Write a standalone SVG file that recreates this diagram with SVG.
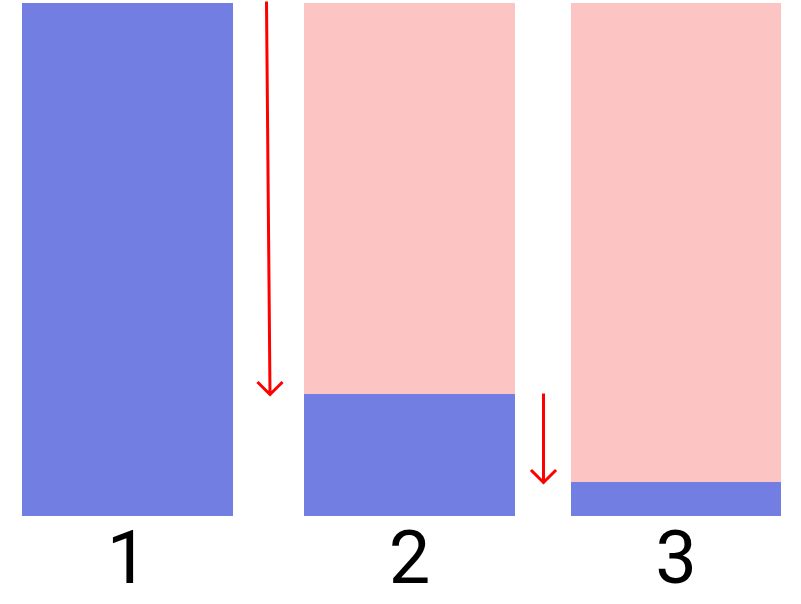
<svg xmlns="http://www.w3.org/2000/svg" width="801" height="604" viewBox="0 0 801 604">
<style>
.blue{fill:#737ee3}
.pink{fill:#fdc4c4}
.arrow{stroke:#ff0000;stroke-width:3;fill:none;stroke-linecap:square}
.lbl{font-family:Roboto,"Liberation Sans",sans-serif;font-size:74px;fill:#000;text-anchor:middle}
</style>
<rect width="801" height="604" fill="#fff"/>
<g id="col1">
<rect class="blue" x="22" y="3" width="211" height="513"/>
<text class="lbl" x="127.5" y="583">1</text>
</g>
<g id="col2">
<rect class="pink" x="304" y="3" width="211" height="391"/>
<rect class="blue" x="304" y="394" width="211" height="122"/>
<text class="lbl" x="409.5" y="583">2</text>
</g>
<g id="col3">
<rect class="pink" x="571" y="3" width="210" height="479"/>
<rect class="blue" x="571" y="482" width="210" height="34"/>
<text class="lbl" x="676" y="583">3</text>
</g>
<g id="connectors">
<path class="arrow" d="M266.5 3 L270 394 M258.5 383 L270 394.5 L281.5 383"/>
<path class="arrow" d="M543.5 395 L543.5 482 M532 471 L543.5 482.5 L555 471"/>
</g>
</svg>
